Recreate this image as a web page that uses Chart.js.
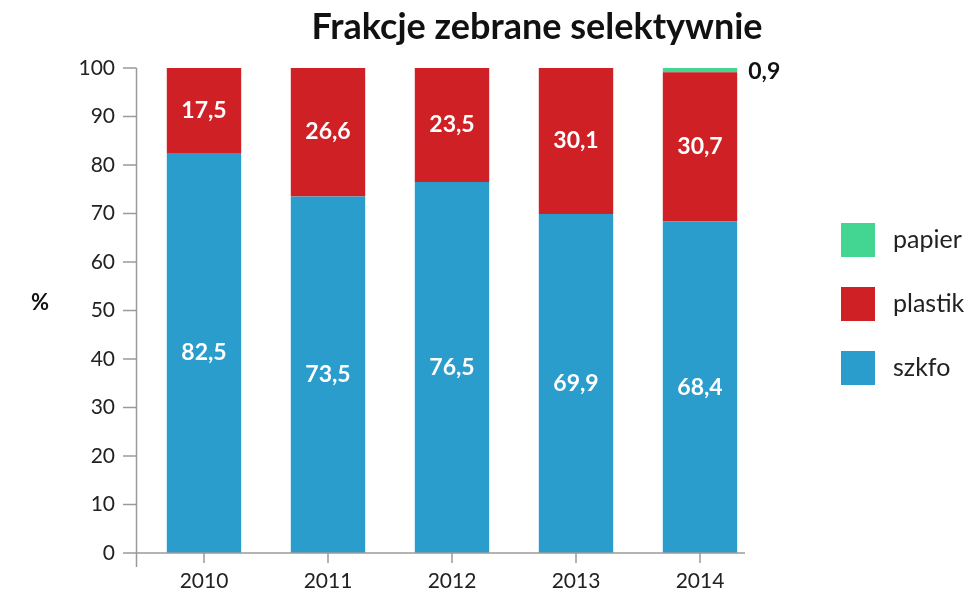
<!DOCTYPE html>
<html>
<head>
<meta charset="utf-8">
<script src="https://cdn.jsdelivr.net/npm/chart.js@4/dist/chart.umd.min.js"></script>
<style>
  html, body { margin: 0; padding: 0; background: #fff; }
  #wrap { width: 974px; height: 601px; position: relative; }
</style>
</head>
<body>
<div id="wrap"><canvas id="chart" width="974" height="601"></canvas></div>
<script>
const years = ['2010', '2011', '2012', '2013', '2014'];
const szkfo = [82.5, 73.5, 76.5, 69.9, 68.4];
const plastik = [17.5, 26.6, 23.5, 30.1, 30.7];
const papier = [0, 0, 0, 0, 0.9];
const yTicks = [0, 10, 20, 30, 40, 50, 60, 70, 80, 90, 100];

const FONT = 'Lato, "Open Sans", sans-serif';
const AXIS = '#9a9a9a';
const colors = { szkfo: '#2a9dcc', plastik: '#cf2026', papier: '#43d692' };

const fmt = v => v.toFixed(1).replace('.', ',');

const decorations = {
    id: 'decorations',
    afterDatasetsDraw(chart) {
        const ctx = chart.ctx;
        const xs = chart.scales.x, ys = chart.scales.y;
        ctx.save();

        // axes
        ctx.strokeStyle = AXIS;
        ctx.lineWidth = 1.5;
        const ax = 136.5, y0 = ys.getPixelForValue(0);
        ctx.beginPath();
        ctx.moveTo(ax, ys.getPixelForValue(100));
        ctx.lineTo(ax, y0 + 14);
        ctx.moveTo(123, y0);
        ctx.lineTo(745, y0);
        yTicks.forEach(t => {
            const py = ys.getPixelForValue(t);
            ctx.moveTo(123, py);
            ctx.lineTo(ax, py);
        });
        years.forEach((_, i) => {
            const px = xs.getPixelForValue(i);
            ctx.moveTo(px, y0);
            ctx.lineTo(px, y0 + 10);
        });
        ctx.stroke();

        // value labels
        chart.data.datasets.forEach((ds, di) => {
            const meta = chart.getDatasetMeta(di);
            meta.data.forEach((el, i) => {
                const v = ds.data[i];
                if (!v) return;
                ctx.font = 'bold 23px ' + FONT;
                ctx.textBaseline = 'middle';
                if (v < 5) {
                    ctx.fillStyle = '#111';
                    ctx.textAlign = 'left';
                    ctx.fillText(fmt(v), el.x + el.width / 2 + 11, el.y + 4);
                } else {
                    ctx.fillStyle = '#fff';
                    ctx.textAlign = 'center';
                    ctx.fillText(fmt(v), el.x, (el.y + el.base) / 2);
                }
            });
        });

        // title
        ctx.fillStyle = '#111';
        ctx.font = 'bold 36px ' + FONT;
        ctx.textAlign = 'center';
        ctx.textBaseline = 'middle';
        ctx.fillText('Frakcje zebrane selektywnie', 537, 27);

        // y axis label
        ctx.font = 'bold 22px ' + FONT;
        ctx.fillText('%', 40, 303);

        // legend
        const items = [['papier', colors.papier, 240], ['plastik', colors.plastik, 304], ['szkfo', colors.szkfo, 368]];
        items.forEach(([name, c, cy]) => {
            ctx.fillStyle = c;
            ctx.fillRect(841, cy - 17, 34, 34);
            ctx.fillStyle = '#222';
            ctx.font = '25px ' + FONT;
            ctx.textAlign = 'left';
            ctx.fillText(name, 893, cy);
        });
        ctx.restore();
    }
};

new Chart(document.getElementById('chart').getContext('2d'), {
    type: 'bar',
    data: {
        labels: years,
        datasets: [
            { label: 'szkfo', data: szkfo, backgroundColor: colors.szkfo },
            { label: 'plastik', data: plastik, backgroundColor: colors.plastik },
            { label: 'papier', data: papier, backgroundColor: colors.papier }
        ]
    },
    options: {
        responsive: false,
        animation: false,
        layout: { padding: { top: 68, right: 212, left: 0, bottom: 0 } },
        datasets: { bar: { barPercentage: 0.6, categoryPercentage: 1 } },
        scales: {
            x: {
                stacked: true,
                grid: { display: false, drawTicks: false },
                border: { display: false },
                ticks: { color: '#222', font: { family: FONT, size: 21 }, padding: 16 },
                afterFit: s => { s.height = 48; }
            },
            y: {
                stacked: true,
                min: 0, max: 100,
                afterBuildTicks: s => { s.ticks = yTicks.map(v => ({ value: v })); },
                grid: { display: false, drawTicks: false },
                border: { display: false },
                ticks: { color: '#222', font: { family: FONT, size: 21 }, padding: 27 },
                afterFit: s => { s.width = 142; }
            }
        },
        plugins: { legend: { display: false }, tooltip: { enabled: false } }
    },
    plugins: [decorations]
});
</script>
</body>
</html>
